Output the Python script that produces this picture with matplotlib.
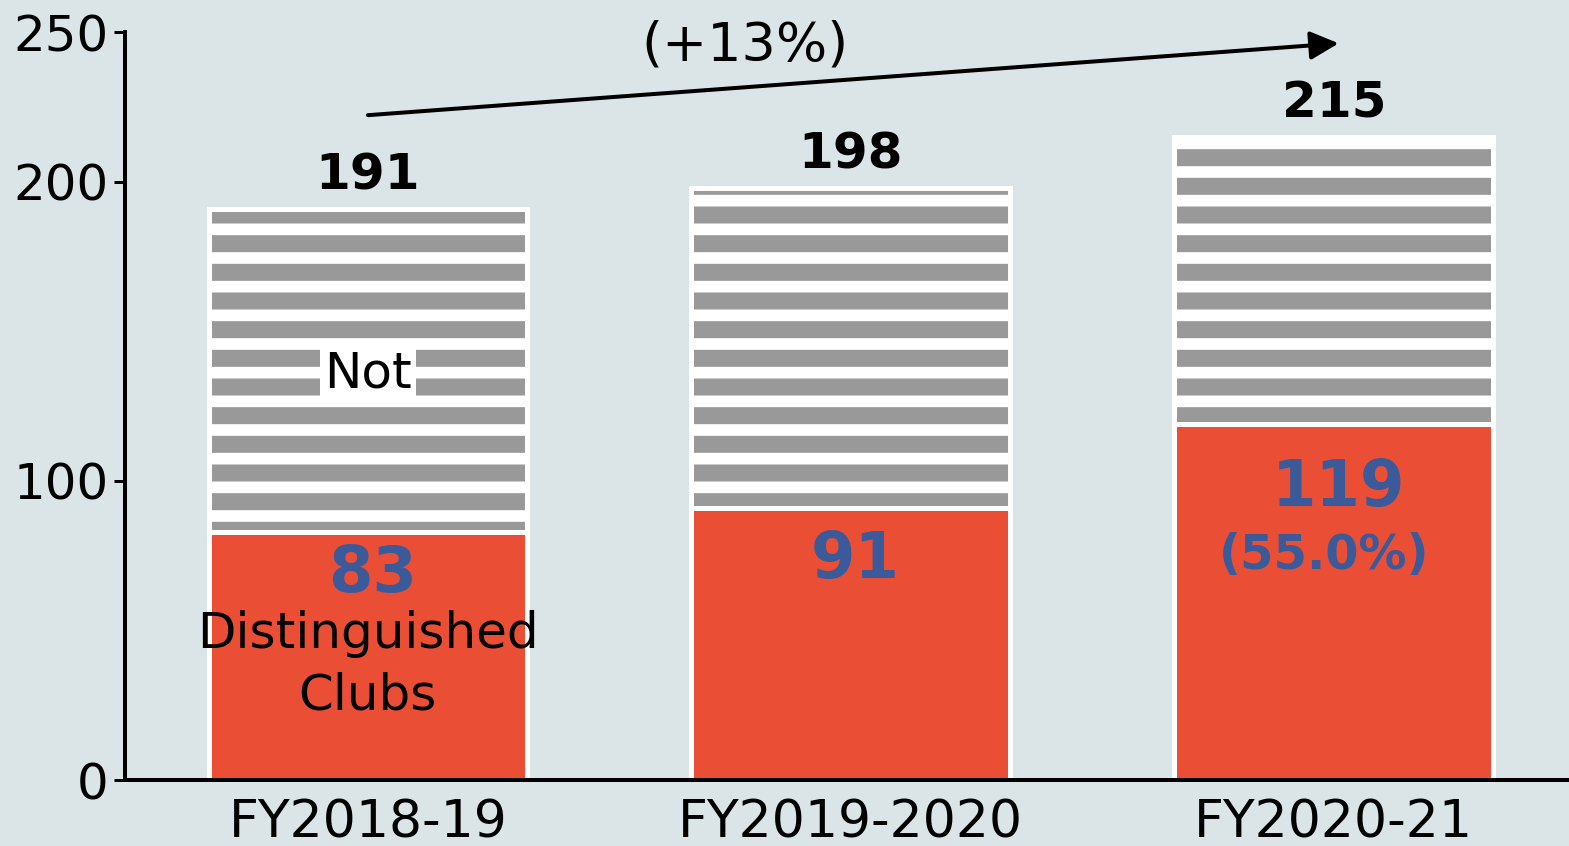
import numpy as np
import matplotlib
matplotlib.use("Agg")
import matplotlib.pyplot as plt

# data
years = ["FY2018-19", "FY2019-2020", "FY2020-21"]
totals = [191, 198, 215]
distinguished = [83, 91, 119]
growth_label = "(+13%)"
share_label = "(55.0%)"

DPI = 172
bg = "#dbe4e6"
red = "#ea4f36"
gray = "#999999"
blue = "#3b5a99"


def px(v):
    # pixels -> points
    return v * 72 / DPI


plt.rcParams["font.family"] = "DejaVu Sans"
plt.rcParams["hatch.linewidth"] = px(17)

fig = plt.figure(figsize=(1569 / DPI, 846 / DPI), dpi=DPI, facecolor=bg)
ax = fig.add_axes([125 / 1569, 66 / 846, 1 - 125 / 1569, (780 - 32) / 846])
ax.set_facecolor(bg)

x = np.arange(len(years))
tot = np.array(totals)
dist = np.array(distinguished)
notd = tot - dist
w = 0.66

ax.bar(x, dist, w, color=red, edgecolor="white", linewidth=px(5), zorder=2)
ax.bar(x, notd, w, bottom=dist, facecolor="white", edgecolor=gray,
       hatch="-", linewidth=0, zorder=2)
ax.bar(x, notd, w, bottom=dist, fill=False, edgecolor="white",
       linewidth=px(5), zorder=3)

ax.set_xlim(-0.503, 2.487)
ax.set_ylim(0, 250)
ax.set_yticks([0, 100, 200, 250])
ax.set_xticks(x)
ax.set_xticklabels(years)
ax.tick_params(axis="y", labelsize=px(50), width=px(3), length=px(11), pad=px(5))
ax.tick_params(axis="x", labelsize=px(52), length=0, pad=px(18))
for s in ["top", "right"]:
    ax.spines[s].set_visible(False)
for s in ["left", "bottom"]:
    ax.spines[s].set_linewidth(px(4))
    ax.spines[s].set_zorder(5)

# totals above bars
for xi, t in zip(x, tot):
    ax.text(xi, t + 6.3, str(t), ha="center", va="baseline",
            fontsize=px(50), fontweight="bold", color="black")

# distinguished counts inside red part
inner_y = [69, 73.6, 97.7]
for xi, d, yy in zip(x, dist, inner_y):
    ax.text(xi + 0.01, yy, str(d), ha="center", va="center",
            fontsize=px(64), fontweight="bold", color=blue, zorder=4)
ax.text(x[2] - 0.02, 75, share_label, ha="center", va="center",
        fontsize=px(48), fontweight="bold", color=blue, zorder=4)

ax.text(x[0], 38.5, "Distinguished\nClubs", ha="center", va="center",
        fontsize=px(50), color="black", linespacing=1.35, zorder=4)
ax.text(x[0], 136, "Not", ha="center", va="center", fontsize=px(50),
        color="black", zorder=4,
        bbox=dict(facecolor="white", edgecolor="none", pad=px(4)))

# growth arrow
ax.annotate("", xy=(2.01, 246.2), xytext=(0, 222.2),
            arrowprops=dict(arrowstyle="-|>", lw=px(4), color="black",
                            mutation_scale=px(60), shrinkA=0, shrinkB=0),
            annotation_clip=False)
ax.text(0.78, 245.6, growth_label, ha="center", va="center",
        fontsize=px(54), color="black")

fig.savefig("out.png", dpi=DPI, facecolor=bg)
